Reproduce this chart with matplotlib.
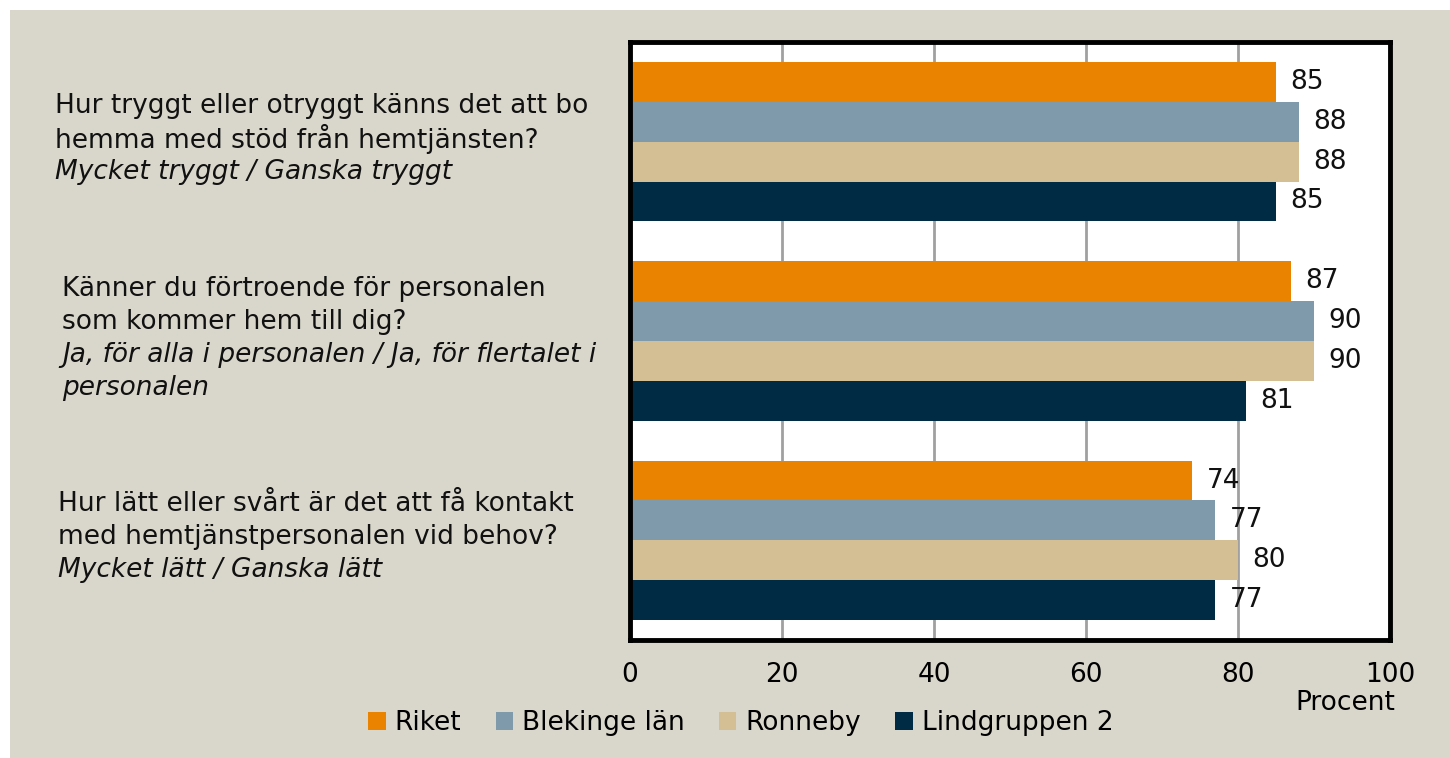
import matplotlib.pyplot as plt
from matplotlib.patches import Rectangle
import matplotlib.transforms as mtransforms

# --- data ---
questions = [
    "Hur tryggt eller otryggt känns det att bo\nhemma med stöd från hemtjänsten?",
    "Känner du förtroende för personalen\nsom kommer hem till dig?",
    "Hur lätt eller svårt är det att få kontakt\nmed hemtjänstpersonalen vid behov?",
]
answers = [
    "Mycket tryggt / Ganska tryggt",
    "Ja, för alla i personalen / Ja, för flertalet i\npersonalen",
    "Mycket lätt / Ganska lätt",
]
series = ["Riket", "Blekinge län", "Ronneby", "Lindgruppen 2"]
riket = [85, 87, 74]
blekinge = [88, 90, 77]
ronneby = [88, 90, 80]
lindgruppen = [85, 81, 77]
values = [riket, blekinge, ronneby, lindgruppen]
colors = ["#E98300", "#7F9BAB", "#D4BF95", "#002B45"]
xticks = [0, 20, 40, 60, 80, 100]

FS = 19
plt.rcParams["font.family"] = ["DejaVu Sans"]

fig = plt.figure(figsize=(14.5, 7.58), dpi=100, facecolor="white")
fig.patches.append(Rectangle((10 / 1450, 0), 1, 1 - 10 / 758, transform=fig.transFigure,
                             facecolor="#D9D7CB", edgecolor="none", zorder=-10))

ax = fig.add_axes([630 / 1450, 1 - 640 / 758, 760 / 1450, 598 / 758])
ax.set_facecolor("white")

bh = 0.2
for i, (name, vals, col) in enumerate(zip(series, values, colors)):
    pos = [c + (i - 1.5) * bh for c in range(len(questions))]
    ax.barh(pos, vals, height=bh, color=col, label=name, zorder=2)
    for p, v in zip(pos, vals):
        ax.text(v + 1.9, p, str(v), va="center", ha="left", fontsize=FS, color="#111111", zorder=3)

ax.set_xlim(0, 100)
ax.set_ylim(len(questions) - 0.5, -0.5)
ax.set_xticks(xticks)
ax.set_xticklabels([str(t) for t in xticks], fontsize=FS)
ax.set_yticks([])
ax.tick_params(axis="x", length=0, pad=16)
ax.grid(axis="x", color="#A0A0A0", linewidth=2, zorder=1)
for s in ax.spines.values():
    s.set_linewidth(3.5)
    s.set_color("black")
ax.set_xlabel("Procent", loc="right", fontsize=FS, labelpad=1)
ax.xaxis.label.set_position((1.007, 0))

# question texts, left of the axes
trans = mtransforms.blended_transform_factory(fig.transFigure, ax.transData)
qx = [55, 62, 58]
for k, (q, a) in enumerate(zip(questions, answers)):
    lines = [(l, "normal") for l in q.split("\n")] + [(l, "italic") for l in a.split("\n")]
    n = len(lines)
    for j, (txt, style) in enumerate(lines):
        off = -((j - (n - 1) / 2) * 33) + 3
        ax.annotate(txt, xy=(qx[k] / 1450, k), xycoords=trans, xytext=(0, off),
                    textcoords="offset pixels", ha="left", va="center",
                    fontsize=FS, fontstyle=style, color="#111111", annotation_clip=False)

leg = fig.legend(loc="center", bbox_to_anchor=(0.511, 1 - 723 / 758), ncol=4, frameon=False,
                 fontsize=FS, handlelength=0.65, handleheight=0.65, handletextpad=0.35,
                 columnspacing=1.3)

fig.savefig("out.png", dpi=100, facecolor=fig.get_facecolor())
